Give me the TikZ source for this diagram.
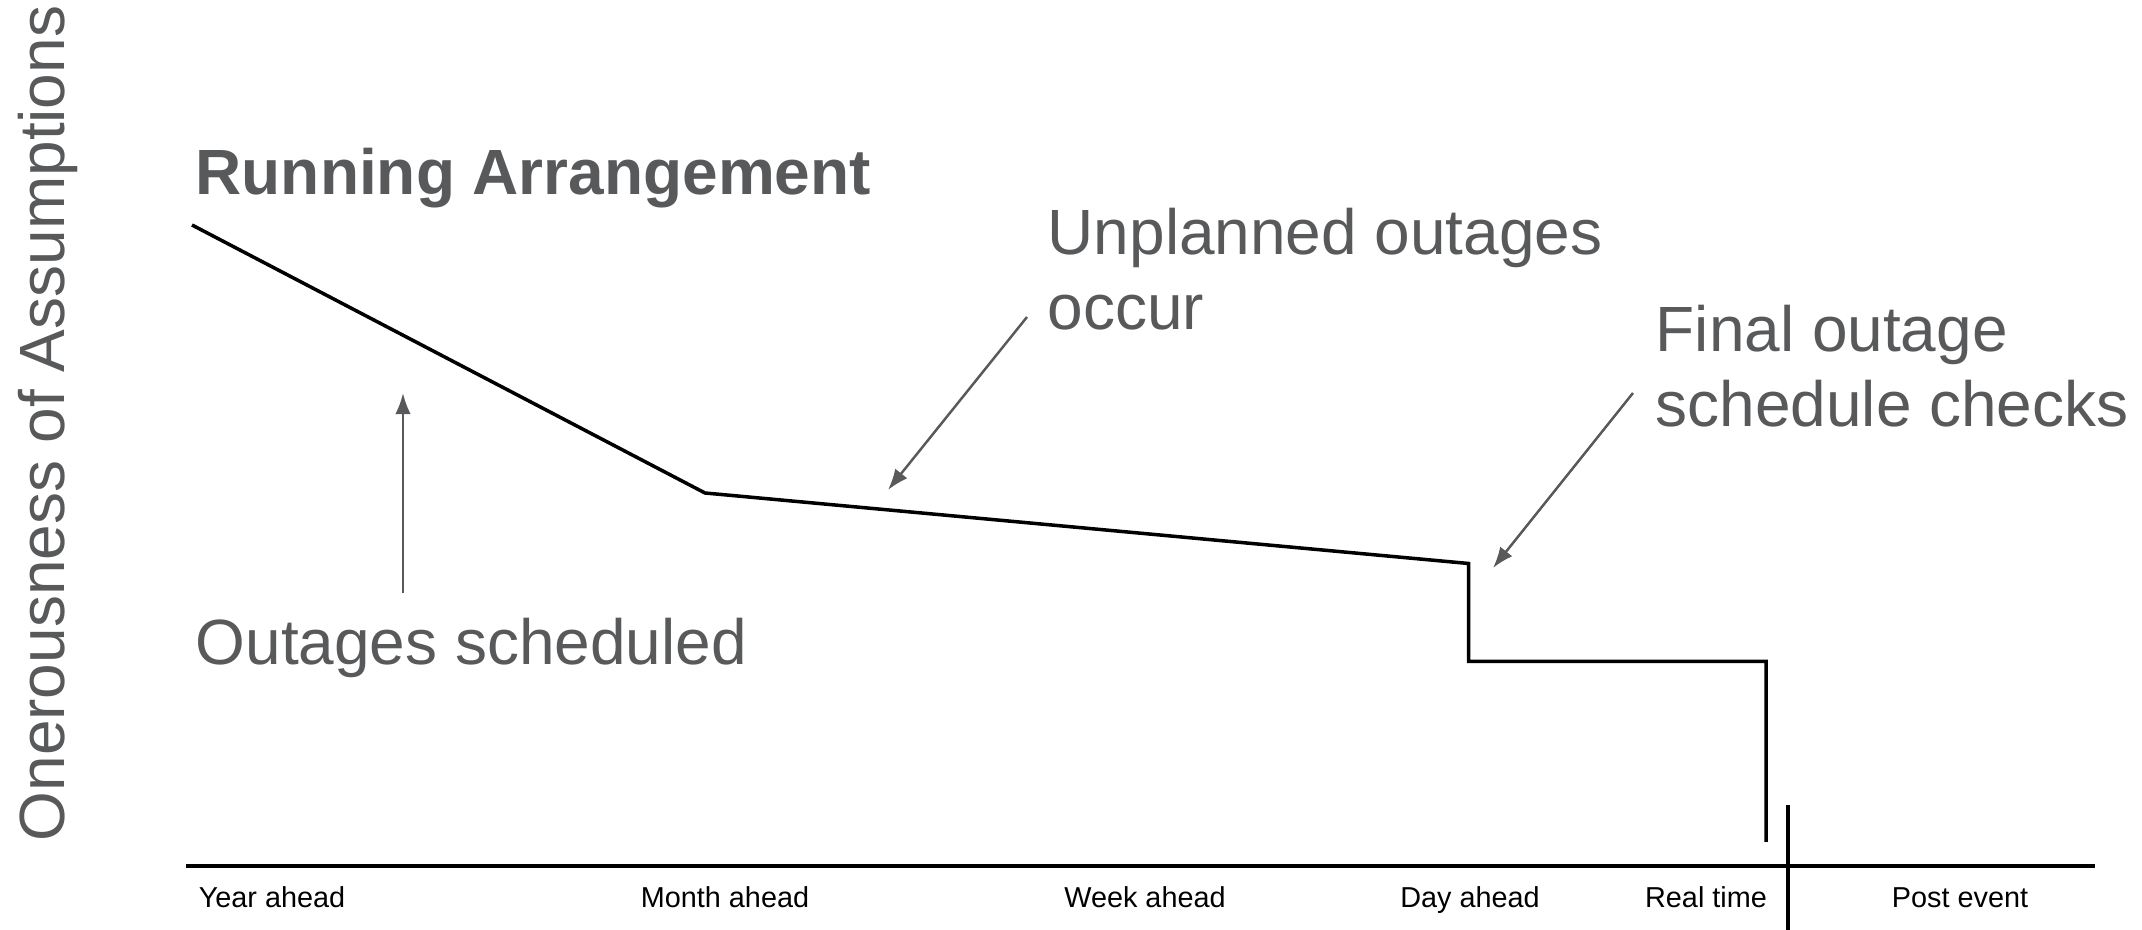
\documentclass[tikz,border=0pt]{standalone}
\usepackage{fontspec}
\setmainfont{Liberation Sans}
\usetikzlibrary{arrows.meta}
\definecolor{textgrey}{RGB}{88,89,91}

\begin{document}
\begin{tikzpicture}[
	note/.style={text=textgrey, font=\fontsize{18.2}{21.6}\selectfont, inner sep=0pt, align=left, anchor=base west},
	timelabel/.style={font=\fontsize{8.2}{10}\selectfont, inner sep=0pt, anchor=base},
	pointer/.style={draw=textgrey, line width=0.7pt, -{Latex[length=6pt,width=4.4pt]}}
	]
	
	\useasboundingbox (0,0) rectangle (21.42,9.30);
	
	% Eje vertical
	\node[note, rotate=90] (onerous) at (0.65,0.88) {Onerousness of Assumptions};
	
	% Titulo
	\node[note, font=\fontsize{18.2}{21.6}\selectfont\bfseries] (running) at (1.95,7.35) {Running Arrangement};
	
	% Textos
	\node[note] (scheduled) at (1.95,2.65) {Outages scheduled};
	\node[note] (unplanned) at (10.47,6.00) {Unplanned outages \\ occur};
	\node[note] (final) at (16.55,5.03) {Final outage \\ schedule checks};
	
	% Curva
	\coordinate (start) at (1.92,7.05);
	\coordinate (month) at (7.05,4.37);
	\coordinate (dayhigh) at (14.685,3.665);
	\coordinate (daylow) at (14.685,2.685);
	\coordinate (realhigh) at (17.66,2.685);
	\coordinate (reallow) at (17.66,0.88);
	
	\draw[line width=1pt, line join=miter] (start) -- (month) -- (dayhigh) -- (daylow) -- (realhigh) -- (reallow);
	
	% Flechas
	\coordinate (tail1) at (4.03,3.37);
	\coordinate (tip1) at (4.03,5.37);
	\coordinate (tail2) at (10.27,6.13);
	\coordinate (tip2) at (8.88,4.40);
	\coordinate (tail3) at (16.33,5.37);
	\coordinate (tip3) at (14.93,3.62);
	
	\draw[pointer] (tail1) -- (tip1);
	\draw[pointer] (tail2) -- (tip2);
	\draw[pointer] (tail3) -- (tip3);
	
	% Eje del tiempo
	\coordinate (axisleft) at (1.86,0.64);
	\coordinate (axisright) at (20.95,0.64);
	\coordinate (septop) at (17.88,1.25);
	\coordinate (sepbottom) at (17.88,0);
	
	\draw[line width=1.35pt] (axisleft) -- (axisright);
	\draw[line width=1.1pt] (septop) -- (sepbottom);
	
	\node[timelabel] (year) at (2.72,0.22) {Year ahead};
	\node[timelabel] (monthlbl) at (7.25,0.22) {Month ahead};
	\node[timelabel] (week) at (11.45,0.22) {Week ahead};
	\node[timelabel] (day) at (14.70,0.22) {Day ahead};
	\node[timelabel] (real) at (17.06,0.22) {Real time};
	\node[timelabel] (post) at (19.60,0.22) {Post event};
	
\end{tikzpicture}
\end{document}
